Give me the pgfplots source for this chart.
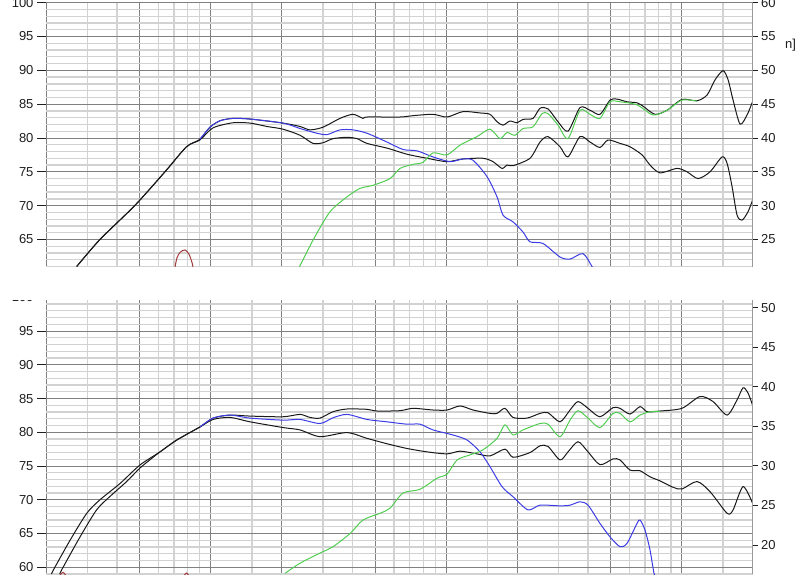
\documentclass[border=0pt]{standalone}
\usepackage{fontspec}
\setmainfont{Liberation Sans}
\usepackage{pgfplots}
\pgfplotsset{compat=1.18}

\definecolor{gridmaj}{RGB}{128,128,128}
\definecolor{gridmin}{RGB}{210,210,210}
\definecolor{curveblack}{RGB}{25,25,25}
\definecolor{curveblue}{RGB}{60,60,230}
\definecolor{curvegreen}{RGB}{80,205,80}
\definecolor{curvered}{RGB}{165,60,60}
\definecolor{lbl}{RGB}{30,30,30}

\newcommand{\lblfont}{\fontsize{13}{15}\selectfont}

\begin{document}
\begin{tikzpicture}

% ---------- upper panel ----------
\begin{scope}
\clip (0pt,307pt) rectangle (800pt,600pt);
\begin{axis}[at={(46pt,307.5pt)}, anchor=south west,
  scale only axis, width=706.5pt, height=263.8pt,
  xmode=log, xmin=20, xmax=20000,
  ymin=61, ymax=100,
  xtick={20,50,100,200,500,1000,2000,5000,10000,20000},
  minor xtick={30,40,60,70,80,90,150,300,400,600,700,800,900,1500,3000,4000,6000,7000,8000,9000,15000},
  xticklabels={},
  ytick={65,70,75,80,85,90,95,100},
  yticklabels={65,70,75,80,85,90,95,100},
  minor ytick={61,62,63,64,66,67,68,69,71,72,73,74,76,77,78,79,81,82,83,84,86,87,88,89,91,92,93,94,96,97,98,99},
  grid=both,
  major grid style={color=gridmaj, line width=0.9pt},
  minor grid style={color=gridmin, line width=1.3pt},
  axis line style={draw=none},
  xtick style={draw=none},
  ytick pos=left,
  tick align=outside,
  major tick length=9pt,
  minor tick length=0pt,
  ytick style={color=lbl, line width=0.9pt},
  yticklabel style={font=\lblfont, text=lbl},
  every axis plot/.append style={line width=1pt, smooth, tension=0.45},
]
% lower black
\addplot[curveblack] coordinates {
(27,61.0) (33.9,65.0) (47.6,70.0) (64,75.0) (79,78.7) (90,79.7)
(102.4,81.5) (124.5,82.25) (147,82.2) (173.6,81.7) (203,81.3) (239.7,80.4)
(272.2,79.2) (300.2,79.3) (331,79.9) (379.7,80.1) (418.6,79.9) (461.5,79.2)
(561.1,78.5) (682.3,77.6) (829.6,77.0) (1009,76.5) (1180,76.9) (1434,77.0)
(1581,76.5) (1727,75.5) (1813,76.0) (1923,75.9) (2271,77.0) (2505,79.4)
(2708,80.2) (3046,78.7) (3293,77.2) (3703,80.2) (4083,79.4) (4501,78.6)
(4868,79.7) (5474,79.2) (6038,78.7) (6792,77.5) (7342,76.0) (8094,74.85)
(9559,75.5) (10541,75.0) (11738,74.0) (13203,75.0) (14852,77.2) (15597,76.25)
(16378,72.8) (17195,68.6) (18056,67.85) (19148,69.1) (20000,70.8)
};
% upper black
\addplot[curveblack] coordinates {
(27,61.0) (33.9,65.0) (47.6,70.0) (64,75.0) (79,78.7) (90,79.8)
(99.4,81.6) (109.7,82.55) (124.5,82.9) (147,82.8) (203,82.2) (239.7,81.7)
(264.3,81.2) (300.2,81.6) (354.4,82.9) (402.5,83.5) (443.7,82.9) (461.5,83.1)
(637.1,83.1) (723.5,83.3) (879.8,83.5) (1009,83.1) (1180,83.9) (1393,83.7)
(1536,83.5) (1645,82.4) (1744,81.9) (1867,82.5) (2000,82.25) (2120,82.75)
(2339,82.9) (2505,84.4) (2708,84.3) (2987,82.4) (3293,81.0) (3703,84.5)
(4083,84.1) (4501,83.5) (4965,85.6) (5316,85.75) (5864,85.35) (6468,85.2)
(6858,84.7) (7709,83.5) (8670,84.1) (10030,85.7) (11624,85.5) (12822,86.35)
(13866,88.6) (14998,89.95) (15750,88.6) (16538,85.6) (17706,82.05) (18961,83.4)
(20000,85.35)
};
% blue
\addplot[curveblue] coordinates {
(90,79.8) (99.4,81.6) (109.7,82.55) (124.5,82.9) (147,82.8) (203,82.2)
(239.7,81.4) (282.9,80.7) (312.2,80.5) (354.4,81.2) (402.5,81.2) (461.5,80.7)
(561.1,79.4) (656.1,78.3) (752.3,78.1) (879.8,77.2) (1039,76.5) (1180,76.9)
(1301,76.7) (1491,74.3) (1645,71.3) (1744,68.6) (1923,67.6) (2120,66.1)
(2271,64.65) (2579,64.4) (3046,62.4) (3359,62.1) (3814,62.9) (4164,61.0)
(4400,59.5)
};
% green
\addplot[curvegreen] coordinates {
(235,60.5) (272.2,64.9) (321.5,69.1) (379.7,71.3) (430.9,72.55) (489.3,73.0)
(577.8,74.0) (637.1,75.5) (723.5,76.1) (797.8,76.4) (879.8,77.8) (1009,77.5)
(1146,78.95) (1352,80.2) (1536,81.3) (1694,79.9) (1813,80.8) (1961,80.4)
(2120,81.4) (2339,81.65) (2554,83.6) (2708,83.6) (2987,81.9) (3293,79.9)
(3703,84.1) (4083,83.5) (4501,82.9) (4965,85.35) (5474,85.35) (6468,84.9)
(7560,83.4) (8670,84.1) (10030,85.6) (11624,85.45)
};
% red
\addplot[curvered] coordinates {
(70.6,60.9) (72,62.3) (74.2,63.1) (77.9,63.45) (81,62.8) (83.5,61.5) (84.2,60.8)
};
\end{axis}
\begin{axis}[at={(46pt,307.5pt)}, anchor=south west,
  scale only axis, width=706.5pt, height=263.8pt,
  xmin=0, xmax=1, ymin=21, ymax=60,
  axis x line=none, axis y line*=right,
  y axis line style={color=gridmaj!80, line width=0.9pt},
  ytick={25,30,35,40,45,50,55,60},
  yticklabels={25,30,35,40,45,50,55,60},
  tick align=outside, major tick length=5pt,
  ytick style={color=lbl, line width=0.9pt},
  yticklabel style={font=\lblfont, text=lbl},
]
\addplot[draw=none] coordinates {(0.5,40)};
\end{axis}
\node[anchor=base west, inner sep=0pt, text=lbl, font=\lblfont] at (785pt,525pt) {n]};
\end{scope}

% ---------- lower panel ----------
\begin{scope}
\clip (0pt,-5pt) rectangle (800pt,273.3pt);
\begin{axis}[at={(46pt,0pt)}, anchor=south west,
  scale only axis, width=706.5pt, height=276.7pt,
  xmode=log, xmin=20, xmax=20000,
  ymin=59, ymax=100,
  xtick={20,50,100,200,500,1000,2000,5000,10000,20000},
  minor xtick={30,40,60,70,80,90,150,300,400,600,700,800,900,1500,3000,4000,6000,7000,8000,9000,15000},
  xticklabels={},
  ytick={60,65,70,75,80,85,90,95,100},
  yticklabels={60,65,70,75,80,85,90,95,100},
  minor ytick={59,61,62,63,64,66,67,68,69,71,72,73,74,76,77,78,79,81,82,83,84,86,87,88,89,91,92,93,94,96,97,98,99},
  grid=both,
  major grid style={color=gridmaj, line width=0.9pt},
  minor grid style={color=gridmin, line width=1.3pt},
  axis line style={draw=none},
  xtick style={draw=none},
  ytick pos=left,
  tick align=outside,
  major tick length=9pt,
  minor tick length=0pt,
  ytick style={color=lbl, line width=0.9pt},
  yticklabel style={font=\lblfont, text=lbl},
  every axis plot/.append style={line width=1pt, smooth, tension=0.45},
]
% lower black
\addplot[curveblack] coordinates {
(22.9,59.0) (23.3,59.6) (27.9,64.5) (32.8,68.5) (37.4,70.5) (44.0,72.7)
(50.1,74.7) (57,76.3) (61,77.1) (71.8,78.85) (90.2,80.8)
(102.4,81.9) (120.9,82.2) (147,81.55) (203,80.7) (239.7,80.35) (291.3,79.35)
(379.7,79.95) (461.5,79.1) (561.1,78.3) (682.3,77.6) (829.6,77.1) (1009,76.8)
(1146,77.2) (1352,76.8) (1536,76.5) (1778,77.5) (1923,76.3) (2271,77.0)
(2505,78.0) (2708,77.9) (3046,75.9) (3293,77.1) (3631,78.6) (4004,77.1)
(4501,75.2) (5111,76.05) (5474,75.9) (6038,74.4) (6660,74.3) (7342,73.4)
(8094,72.8) (9192,71.85) (10030,71.6) (11624,72.7) (13203,71.2) (15597,68.0)
(16538,68.5) (18234,71.95) (20000,69.5)
};
% upper black
\addplot[curveblack] coordinates {
(21.1,59.0) (21.5,59.6) (25.3,64.0) (29.8,68.0) (33.9,70.0) (41.2,72.4)
(50.1,75.15) (61.0,77.1) (71.8,78.85) (90.2,80.8)
(102.4,82.1) (120.9,82.55) (147,82.4) (203,82.3) (239.7,82.65) (264.3,82.2)
(291.3,82.1) (331,83.05) (379.7,83.45) (461.5,83.4) (508.8,83.15) (637.1,83.2)
(723.5,83.55) (879.8,83.3) (1009,83.3) (1146,83.9) (1301,83.3) (1536,82.8)
(1645,82.8) (1778,83.55) (1923,82.2) (2205,82.1) (2505,82.8) (2708,82.9)
(3046,81.55) (3359,83.3) (3631,84.55) (4004,83.55) (4501,82.3) (5111,83.65)
(5474,83.55) (6038,82.7) (6660,83.8) (7131,83.05) (8094,83.15) (10030,83.55)
(11971,85.3) (13597,84.55) (15597,82.55) (17195,84.8) (18234,86.6) (19148,85.8)
(20000,84.05)
};
% blue
\addplot[curveblue] coordinates {
(90.2,80.8) (102.4,82.1) (120.9,82.55) (147,82.1) (203,81.8) (239.7,81.9)
(291.3,81.3) (331,82.15) (379.7,82.65) (461.5,81.9) (561.1,81.55) (682.3,81.2)
(774.7,81.2) (879.8,80.35) (1069,79.6) (1227,78.85) (1393,77.1) (1536,74.9)
(1727,71.95) (1923,70.45) (2227,68.5) (2505,69.2) (3046,69.1) (3359,69.2)
(3703,69.7) (4004,69.2) (4501,66.5) (4965,64.5) (5474,63.05) (5864,63.55)
(6468,66.5) (6660,67.0) (6993,65.5) (7342,62.55) (7634,59.1) (7800,58.5)
};
% green
\addplot[curvegreen] coordinates {
(207,59.1) (239.7,60.6) (291.3,62.1) (331,63.05) (390.9,65.0) (443.7,67.0)
(523.8,68.0) (577.8,68.75) (656.1,71.0) (774.7,71.55) (915,73.2) (1009,73.8)
(1113,75.9) (1263,76.65) (1434,77.4) (1645,79.1) (1778,81.1) (1923,79.6)
(2120,80.35) (2505,81.3) (2708,81.2) (3046,79.35) (3359,81.8) (3631,83.2)
(4004,82.1) (4501,80.7) (5111,82.8) (5474,82.8) (6038,81.55) (6660,82.55)
(7342,83.05) (8094,83.1)
};
% red (only the tips show)
\addplot[curvered] coordinates {(22.5,58.4) (23.6,59.25) (24.7,58.4)};
\addplot[curvered] coordinates {(76,58.4) (79,59.15) (82,58.4)};
\end{axis}
\begin{axis}[at={(46pt,0pt)}, anchor=south west,
  scale only axis, width=706.5pt, height=276.7pt,
  xmin=0, xmax=1, ymin=16.33, ymax=51.31,
  axis x line=none, axis y line*=right,
  y axis line style={color=gridmaj!80, line width=0.9pt},
  ytick={20,25,30,35,40,45,50},
  yticklabels={20,25,30,35,40,45,50},
  tick align=outside, major tick length=5pt,
  ytick style={color=lbl, line width=0.9pt},
  yticklabel style={font=\lblfont, text=lbl},
]
\addplot[draw=none] coordinates {(0.5,30)};
\end{axis}
\end{scope}

\pgfresetboundingbox
\path[use as bounding box] (0pt,0pt) rectangle (800pt,574pt);
\end{tikzpicture}
\end{document}
